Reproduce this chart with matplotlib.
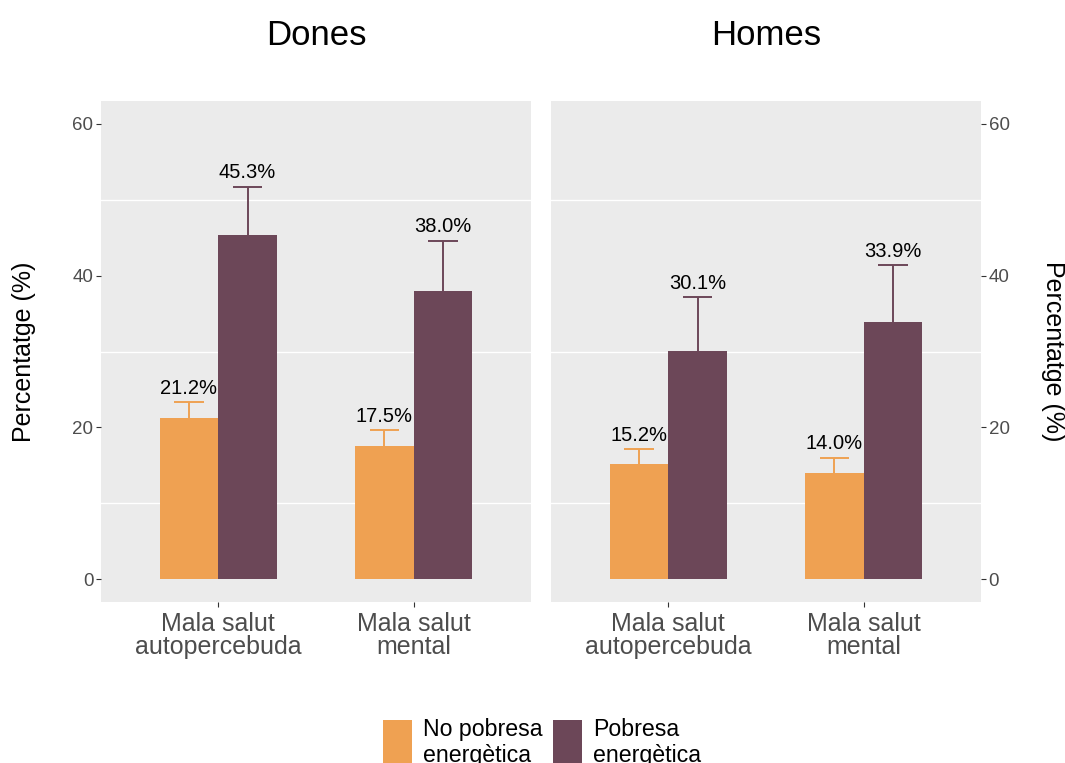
import numpy as np
import matplotlib
matplotlib.use("Agg")
import matplotlib.pyplot as plt
from matplotlib.patches import Patch

plt.rcParams['font.family'] = ['Liberation Sans', 'DejaVu Sans']

# ---------- data ----------
panels = ["Dones", "Homes"]
categories = ["Mala salut\nautopercebuda", "Mala salut\nmental"]
groups = ["No pobresa\nenergètica", "Pobresa\nenergètica"]

dones_no_pob = [21.2, 17.5]
dones_pob = [45.3, 38.0]
homes_no_pob = [15.2, 14.0]
homes_pob = [30.1, 33.9]

# upper limits of the confidence intervals
dones_no_pob_up = [23.3, 19.6]
dones_pob_up = [51.7, 44.6]
homes_no_pob_up = [17.1, 16.0]
homes_pob_up = [37.2, 41.4]

values = {"Dones": [dones_no_pob, dones_pob], "Homes": [homes_no_pob, homes_pob]}
uppers = {"Dones": [dones_no_pob_up, dones_pob_up], "Homes": [homes_no_pob_up, homes_pob_up]}

colors = ["#EFA152", "#6C4758"]
panel_bg = "#EBEBEB"
tick_col = "#4D4D4D"

# ---------- figure ----------
fig = plt.figure(figsize=(10.65, 7.63), dpi=100)
W, H = 1065, 763
bottom = 1 - 602 / H
height = (602 - 101) / H
ax_l = fig.add_axes([101 / W, bottom, 430 / W, height])
ax_r = fig.add_axes([551 / W, bottom, 430 / W, height])

x = np.arange(len(categories))
bw = 0.3

for ax, name in zip([ax_l, ax_r], panels):
    ax.set_facecolor(panel_bg)
    for s in ax.spines.values():
        s.set_visible(False)
    for i, (vals, ups, col) in enumerate(zip(values[name], uppers[name], colors)):
        xs = x + (i - 0.5) * bw
        ax.bar(xs, vals, width=bw, color=col, zorder=2)
        ax.vlines(xs, vals, ups, color=col, lw=1.4, zorder=3)
        ax.hlines(ups, xs - 0.075, xs + 0.075, color=col, lw=1.4, zorder=3)
        for xi, v, u in zip(xs, vals, ups):
            ax.annotate(f"{v:.1f}%", (xi, u), xytext=(0, 6), textcoords="offset points",
                        ha="center", va="baseline", fontsize=14.5, color="black")
    ax.set_xlim(-0.6, 1.6)
    ax.set_ylim(-3, 63)
    ax.set_yticks([0, 20, 40, 60])
    ax.set_yticks([10, 30, 50], minor=True)
    ax.grid(which="minor", axis="y", color="white", lw=1.0, zorder=0)
    ax.set_axisbelow(True)
    ax.set_xticks(x)
    ax.set_xticklabels(categories, fontsize=18, color=tick_col, linespacing=0.95)
    ax.tick_params(axis="x", length=3.5, color="#333333", pad=4)
    ax.tick_params(axis="y", which="major", length=3.5, color="#333333",
                   labelsize=13.5, labelcolor=tick_col, pad=2)
    ax.tick_params(axis="y", which="minor", length=0)
    ax.set_title(name, fontsize=25, pad=40)

ax_l.set_ylabel("Percentatge (%)", fontsize=18, labelpad=26)

ax_r.yaxis.tick_right()
ax_r.yaxis.set_label_position("right")
ax_r.set_ylabel("Percentatge (%)", fontsize=18, rotation=270, labelpad=40)

handles = [Patch(facecolor=c, edgecolor="none") for c in colors]
fig.legend(handles, groups, loc="upper center", bbox_to_anchor=(0.509, 1 - 697 / H),
           ncol=2, frameon=False, fontsize=16.7, handlelength=1.25, handleheight=2.9,
           handletextpad=0.47, columnspacing=0.45)

fig.savefig("out.png", dpi=100)
